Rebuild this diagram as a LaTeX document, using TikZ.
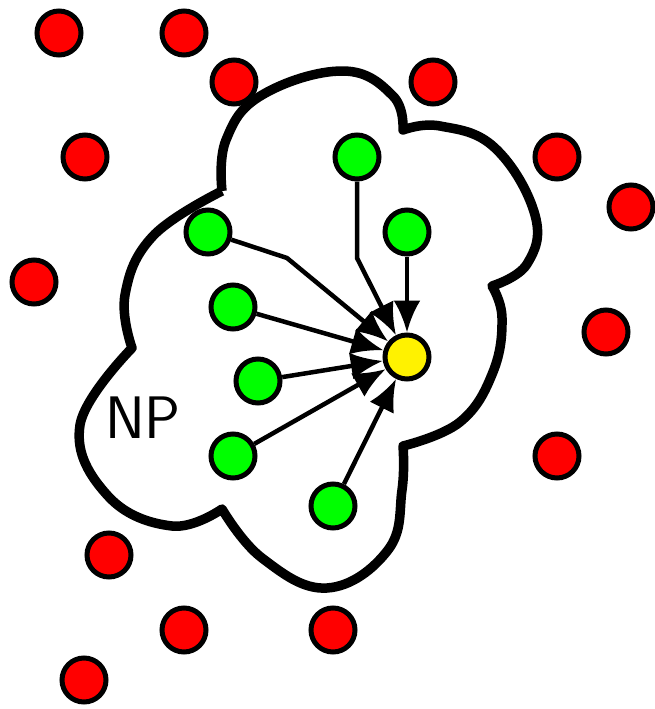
\documentclass[tikz,border=0pt]{standalone}
\usepackage{tikz}
\usetikzlibrary{arrows.meta}

\begin{document}
\begin{tikzpicture}[x=1pt, y=-1pt,
    nodes={draw, circle, line width=5pt, minimum size=44pt, inner sep=0pt},
    outside/.style={fill=red},
    inside/.style={fill=green},
    target/.style={fill=yellow},
    link/.style={line width=4.5pt, -{Latex[length=32pt,width=27pt]}, shorten >=0pt}]
    \useasboundingbox (0,0) rectangle (655,709);
    % the cloud
    \draw[line width=9.5pt, line join=round]
        plot[smooth, tension=0.7] coordinates {(222,191) (226,140) (262,95) (343,71) (393,96) (403,130)}
        -- plot[smooth, tension=0.7] coordinates {(403,130) (440,126) (495,148) (535,215) (527,264) (492,286)}
        -- plot[smooth, tension=0.7] coordinates {(492,286) (502,318) (493,372) (460,422) (403,446)}
        -- plot[smooth, tension=0.7] coordinates {(403,446) (402,490) (388,550) (327,588) (262,558) (222,509)}
        -- plot[smooth, tension=0.7] coordinates {(222,509) (172,526) (108,496) (80,425) (132,348)}
        -- plot[smooth, tension=0.7] coordinates {(132,348) (125,295) (153,236) (222,191)};
    \node[draw=none, minimum size=0pt, font=\sffamily\fontsize{60}{60}\selectfont] (np) at (143,418) {NP};
    % outside
    \node[outside] (r1) at (59,33) {};
    \node[outside] (r2) at (184,33) {};
    \node[outside] (r3) at (234,82) {};
    \node[outside] (r4) at (433,82) {};
    \node[outside] (r5) at (85,157) {};
    \node[outside] (r6) at (557,157) {};
    \node[outside] (r7) at (631,207) {};
    \node[outside] (r8) at (34,282) {};
    \node[outside] (r9) at (606,332) {};
    \node[outside] (r10) at (557,456) {};
    \node[outside] (r11) at (109,555) {};
    \node[outside] (r12) at (184,630) {};
    \node[outside] (r13) at (333,630) {};
    \node[outside] (r14) at (84,680) {};
    % inside
    \node[target] (t) at (407,357) {};
    \node[inside] (g1) at (357,157) {};
    \node[inside] (g2) at (407,232) {};
    \node[inside] (g3) at (208,232) {};
    \node[inside] (g4) at (233,307) {};
    \node[inside] (g5) at (258,381) {};
    \node[inside] (g6) at (233,456) {};
    \node[inside] (g7) at (333,506) {};
    \coordinate (b1) at (357,258);
    \coordinate (b3) at (287,258);
    \draw[link] (g1) -- (b1) -- (t);
    \draw[link] (g2) -- (t);
    \draw[link] (g3) -- (b3) -- (t);
    \draw[link] (g4) -- (t);
    \draw[link] (g5) -- (t);
    \draw[link] (g6) -- (t);
    \draw[link] (g7) -- (t);
\end{tikzpicture}
\end{document}
